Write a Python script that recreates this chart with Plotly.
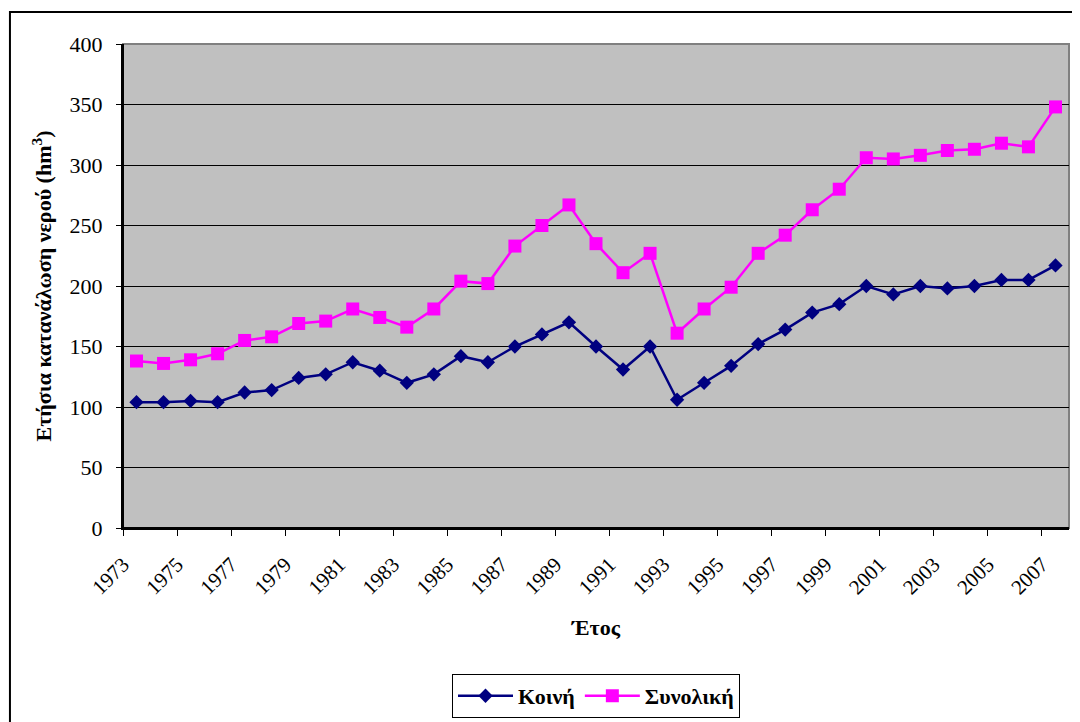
import plotly.graph_objects as go

years = list(range(1973, 2008))

koini = [104, 104, 105, 104, 112, 114, 124, 127, 137, 130,
         120, 127, 142, 137, 150, 160, 170, 150, 131, 150,
         106, 120, 134, 152, 164, 178, 185, 200, 193, 200,
         198, 200, 205, 205, 217]

synoliki = [138, 136, 139, 144, 155, 158, 169, 171, 181, 174,
            166, 181, 204, 202, 233, 250, 267, 235, 211, 227,
            161, 181, 199, 227, 242, 263, 280, 306, 305, 308,
            312, 313, 318, 315, 348]

tick_labels = [str(y) for y in range(1973, 2008, 2)]
tick_pos = [y - 0.5 for y in range(1973, 2008, 2)]

FONT = "Liberation Serif"

fig = go.Figure()
fig.add_trace(go.Scatter(
    x=years, y=koini, name="Κοινή", mode="lines+markers",
    line=dict(color="#000080", width=2.5),
    marker=dict(symbol="diamond", size=11, color="#000080"),
))
fig.add_trace(go.Scatter(
    x=years, y=synoliki, name="Συνολική", mode="lines+markers",
    line=dict(color="#FF00FF", width=2.5),
    marker=dict(symbol="square", size=13, color="#FF00FF"),
))

# the page body adds an 8px margin, so the figure is 8px smaller
fig.update_layout(
    width=1072, height=714,
    margin=dict(l=115, r=11, t=36, b=194, autoexpand=False),
    paper_bgcolor="white",
    plot_bgcolor="#C0C0C0",
    font=dict(family=FONT, size=22, color="black"),
    showlegend=True,
    legend=dict(
        orientation="h", x=0.5, xanchor="center", y=-0.347, yanchor="middle",
        bordercolor="black", borderwidth=1, bgcolor="white",
        font=dict(family=FONT, size=22, color="black", weight="bold"),
        itemwidth=55,
    ),
)

fig.update_xaxes(
    range=[1972.5, 2007.5],
    tickmode="array", tickvals=tick_pos, ticktext=tick_labels,
    tickangle=-45, ticks="outside", ticklen=6, tickcolor="black",
    tickfont=dict(size=21),
    ticklabelstandoff=8,
    showgrid=False, zeroline=False,
    showline=True, linecolor="black", linewidth=2,
    automargin=False,
    title=dict(text="Έτος", font=dict(family=FONT, size=22, weight="bold"), standoff=21),
)

fig.update_yaxes(
    range=[0, 400], dtick=50,
    ticks="outside", ticklen=5, tickcolor="black",
    tickfont=dict(size=22),
    ticklabelstandoff=9,
    showgrid=True, gridcolor="black", gridwidth=1,
    zeroline=False,
    showline=True, linecolor="black", linewidth=2,
    automargin=False,
    title=dict(text="Ετήσια κατανάλωση νερού (hm<sup>3</sup>)",
               font=dict(family=FONT, size=22, weight="bold"), standoff=12),
)

# plot area frame (gray, Excel style)
fig.add_shape(type="rect", xref="paper", yref="paper", x0=0, x1=1, y0=0, y1=1,
              line=dict(color="#808080", width=2), layer="between")
# redraw black axis lines over the frame
fig.add_shape(type="line", xref="paper", yref="paper", x0=0, x1=0, y0=0, y1=1,
              line=dict(color="black", width=2), layer="between")
fig.add_shape(type="line", xref="paper", yref="paper", x0=0, x1=1, y0=0, y1=0,
              line=dict(color="black", width=2), layer="between")

# outer chart border
fig.add_shape(type="rect", xref="paper", yref="paper",
              x0=-0.1195, x1=1.2, y0=-0.6, y1=1.0661,
              line=dict(color="black", width=2), layer="above")

fig.write_html("out.html")
